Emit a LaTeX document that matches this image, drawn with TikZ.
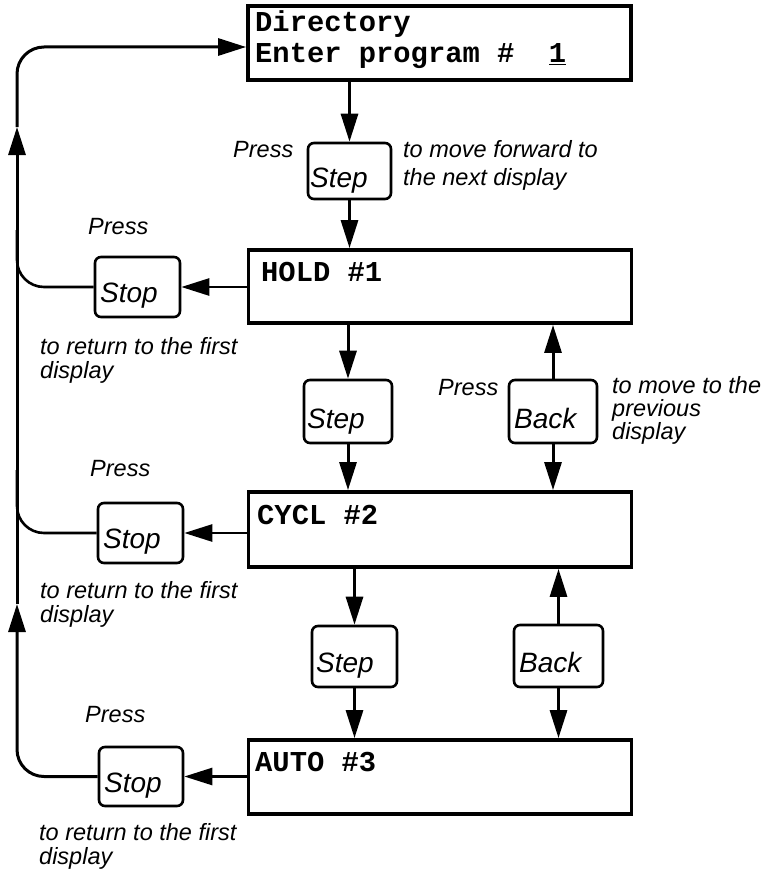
\documentclass[tikz,border=0pt]{standalone}
\usepackage{fontspec}
\usetikzlibrary{arrows.meta}
\newfontfamily\lblfam{Liberation Sans}
\newfontfamily\monofam{Liberation Mono}
\begin{document}
\begin{tikzpicture}[x=1pt,y=-1pt,
  disp/.style={draw, line width=3.8pt, rectangle, inner sep=0pt, minimum width=383pt},
  keybox/.style={draw, line width=2.6pt, rectangle, rounded corners=6pt, inner sep=0pt},
  arr/.style={line width=3pt, -{Triangle[length=28pt,width=17pt]}},
  conn/.style={line width=2.6pt},
  lbl/.style={inner sep=0pt, anchor=base west, font=\lblfam\itshape\fontsize{23.5}{28}\selectfont},
  keytxt/.style={inner sep=0pt, anchor=base west, font=\lblfam\itshape\fontsize{28}{32}\selectfont},
  mono/.style={inner sep=0pt, anchor=base west, font=\monofam\bfseries\fontsize{28.8}{32}\selectfont}]
\useasboundingbox (0,0) rectangle (768,875);

% display boxes
\node[disp, minimum height=74pt] (d0) at (439.5,43) {};
\node[disp, minimum height=73pt] (d1) at (440,286.5) {};
\node[disp, minimum height=75pt] (d2) at (440,529.5) {};
\node[disp, minimum height=74pt] (d3) at (440,777) {};

\node[mono] (t0a) at (255,32) {Directory};
\node[mono] (t0b) at (255,63) {Enter program \#\ \ \underline{1}};
\node[mono] (t1) at (261,281) {HOLD \#1};
\node[mono] (t2) at (257,524) {CYCL \#2};
\node[mono] (t3) at (255,771) {AUTO \#3};

% keys
\node[keybox, minimum width=83pt, minimum height=56pt] (s1) at (349.5,171) {};
\node[keybox, minimum width=85pt, minimum height=60pt] (st1) at (137.5,287) {};
\node[keybox, minimum width=88pt, minimum height=63pt] (s2) at (348,411.5) {};
\node[keybox, minimum width=88pt, minimum height=63pt] (b1) at (553,411.5) {};
\node[keybox, minimum width=85pt, minimum height=60pt] (st2) at (140.5,533) {};
\node[keybox, minimum width=85pt, minimum height=61pt] (s3) at (354.5,656.5) {};
\node[keybox, minimum width=89pt, minimum height=62pt] (b2) at (558.5,656) {};
\node[keybox, minimum width=84pt, minimum height=59pt] (st3) at (141,776.5) {};

\node[keytxt] (k1) at (310,187) {Step};
\node[keytxt] (k2) at (100,302) {Stop};
\node[keytxt] (k3) at (307,428) {Step};
\node[keytxt] (k4) at (514,428) {Back};
\node[keytxt] (k5) at (103,548) {Stop};
\node[keytxt] (k6) at (316,672) {Step};
\node[keytxt] (k7) at (519,672) {Back};
\node[keytxt] (k8) at (104,792) {Stop};

% labels
\node[lbl] (p1) at (233,157) {Press};
\node[lbl] (f1) at (403,157) {to move forward to};
\node[lbl] (f2) at (403,185) {the next display};
\node[lbl] (p2) at (88,234) {Press};
\node[lbl] (r1a) at (40,354) {to return to the first};
\node[lbl] (r1b) at (40,378) {display};
\node[lbl] (p3) at (438,395) {Press};
\node[lbl] (m1) at (612,393) {to move to the};
\node[lbl] (m2) at (612,416) {previous};
\node[lbl] (m3) at (612,439) {display};
\node[lbl] (p4) at (90,476) {Press};
\node[lbl] (r2a) at (40,598) {to return to the first};
\node[lbl] (r2b) at (40,622) {display};
\node[lbl] (p5) at (85,722) {Press};
\node[lbl] (r3a) at (39,840) {to return to the first};
\node[lbl] (r3b) at (39,864) {display};

% vertical arrows
\draw[arr] (s1.north |- d0.south) -- (s1.north);
\draw[arr] (s1.south) -- (s1.south |- d1.north);
\draw[arr] (s2.north |- d1.south) -- (s2.north);
\draw[arr] (s2.south) -- (s2.south |- d2.north);
\draw[arr] (b1.north) -- (b1.north |- d1.south);
\draw[arr] (b1.south) -- (b1.south |- d2.north);
\draw[arr] (s3.north |- d2.south) -- (s3.north);
\draw[arr] (s3.south) -- (s3.south |- d3.north);
\draw[arr] (b2.north) -- (b2.north |- d2.south);
\draw[arr] (b2.south) -- (b2.south |- d3.north);

% stop arrows
\draw[arr, line width=2.6pt] (st1.east -| d1.west) -- (st1.east);
\draw[arr, line width=2.6pt] (st2.east -| d2.west) -- (st2.east);
\draw[arr, line width=2.6pt] (st3.east -| d3.west) -- (st3.east);

% return loop
\coordinate (u1) at (17,604);
\coordinate (u2) at (17,127);
\coordinate (j1) at (17,230);
\coordinate (j2) at (17,470);
\draw[arr, rounded corners=27pt] (st3.west) -| (u1);
\draw[arr] (u1) -- (u2);
\draw[arr, rounded corners=27pt] (u2) |- ([yshift=-4pt]d0.west);
\draw[conn, rounded corners=27pt] (st1.west) -| (j1);
\draw[conn, rounded corners=27pt] (st2.west) -| (j2);
\end{tikzpicture}
\end{document}
